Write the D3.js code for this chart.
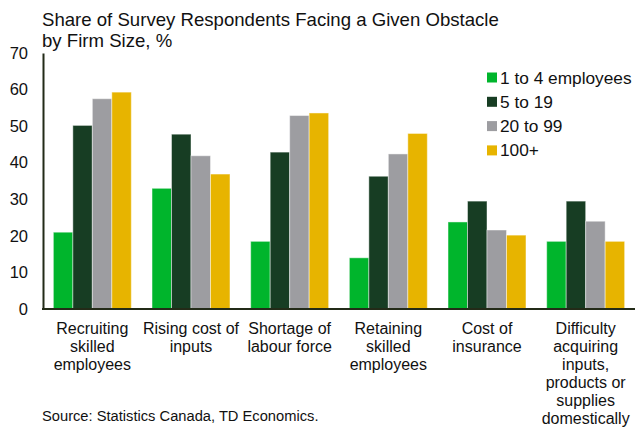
<!DOCTYPE html>
<html>
<head>
<meta charset="utf-8">
<script src="https://cdn.jsdelivr.net/npm/d3@7"></script>
<style>
  html, body { margin: 0; padding: 0; background: #fff; }
  svg { display: block; font-family: "Liberation Sans", Arial, sans-serif; }
</style>
</head>
<body>
<svg id="chart" width="635" height="428"></svg>
<script>
// Obstacle categories (each label split into its display lines)
const categories = [
  ["Recruiting", "skilled", "employees"],
  ["Rising cost of", "inputs"],
  ["Shortage of", "labour force"],
  ["Retaining", "skilled", "employees"],
  ["Cost of", "insurance"],
  ["Difficulty", "acquiring", "inputs,", "products or", "supplies", "domestically"]
];

// Firm-size series
const seriesNames = ["1 to 4 employees", "5 to 19", "20 to 99", "100+"];
const seriesColors = ["#00b52c", "#173d23", "#9d9da1", "#e7b400"];

// Share of respondents (%) per category, one array per firm size
const small  = [21.0, 33.0, 18.5, 14.0, 23.8, 18.5];
const medium = [50.2, 47.8, 42.9, 36.3, 29.5, 29.5];
const large  = [57.5, 41.9, 52.9, 42.4, 21.6, 24.0];
const xlarge = [59.3, 36.9, 53.6, 48.0, 20.2, 18.5];

const yTicks = [0, 10, 20, 30, 40, 50, 60, 70];

const values = [small, medium, large, xlarge];
const catKeys = categories.map(c => c.join(" "));

const svg = d3.select("#chart");
const plotLeft = 43, plotRight = 635, plotTop = 53, plotBottom = 309;

const x = d3.scaleBand().domain(catKeys).range([plotLeft, plotRight])
  .paddingInner(0.21).paddingOuter(0.105);
const xi = d3.scaleBand().domain(seriesNames).range([0, x.bandwidth()]);
const y = d3.scaleLinear().domain([0, 70]).range([plotBottom, plotTop]);

// Title
svg.append("text")
  .attr("x", 42).attr("y", 26)
  .attr("font-size", 18.6).attr("fill", "#111")
  .selectAll("tspan")
  .data(["Share of Survey Respondents Facing a Given Obstacle", "by Firm Size, %"])
  .join("tspan")
  .attr("x", 42).attr("dy", (d, i) => i === 0 ? 0 : 20.5)
  .text(d => d);

// Bars
const groups = svg.append("g").selectAll("g")
  .data(catKeys).join("g")
  .attr("transform", d => `translate(${x(d)},0)`);

groups.selectAll("rect")
  .data((d, ci) => seriesNames.map((s, si) => ({ s, si, v: values[si][ci] })))
  .join("rect")
  .attr("x", d => xi(d.s))
  .attr("y", d => y(d.v))
  .attr("width", xi.bandwidth())
  .attr("height", d => y(0) - y(d.v))
  .attr("fill", d => seriesColors[d.si])
  .attr("stroke", "rgba(255,255,255,0.45)")
  .attr("stroke-width", 1);

// Y axis
const yAxis = svg.append("g")
  .attr("transform", `translate(${plotLeft},0)`)
  .call(d3.axisLeft(y).tickValues(yTicks).tickSize(0).tickPadding(15).tickFormat(d3.format("d")));
yAxis.select(".domain").attr("stroke", "#232b18").attr("stroke-width", 2);
yAxis.selectAll("text").attr("font-size", 16.5).attr("fill", "#111")
  .attr("font-family", "Liberation Sans, Arial, sans-serif");

// X axis line
svg.append("line")
  .attr("x1", plotLeft - 1).attr("x2", plotRight)
  .attr("y1", y(0)).attr("y2", y(0))
  .attr("stroke", "#232b18").attr("stroke-width", 2);

// Category labels
const labels = svg.append("g").selectAll("text")
  .data(categories).join("text")
  .attr("x", (d, i) => x(catKeys[i]) + x.bandwidth() / 2)
  .attr("y", 334)
  .attr("text-anchor", "middle")
  .attr("font-size", 16).attr("fill", "#111");
labels.selectAll("tspan")
  .data((d, i) => d.map(t => ({ t, cx: x(catKeys[i]) + x.bandwidth() / 2 })))
  .join("tspan")
  .attr("x", d => d.cx)
  .attr("dy", (d, i) => i === 0 ? 0 : 18)
  .text(d => d.t);

// Legend
const legend = svg.append("g").selectAll("g")
  .data(seriesNames).join("g")
  .attr("transform", (d, i) => `translate(487,${77.5 + i * 24.3})`);
legend.append("rect")
  .attr("x", 0).attr("y", -5).attr("width", 10).attr("height", 10)
  .attr("fill", (d, i) => seriesColors[i]);
legend.append("text")
  .attr("x", 13).attr("y", 6)
  .attr("font-size", 17.3).attr("fill", "#111")
  .text(d => d);

// Source note
svg.append("text")
  .attr("x", 42).attr("y", 421)
  .attr("font-size", 14.7).attr("fill", "#111")
  .text("Source: Statistics Canada, TD Economics.");
</script>
</body>
</html>
